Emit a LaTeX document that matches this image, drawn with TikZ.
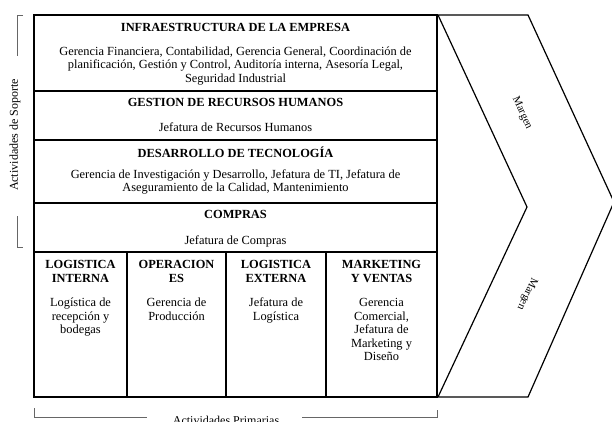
\documentclass[tikz,border=0pt]{standalone}
\usepackage{fontspec}
\setmainfont{Liberation Serif}
\newcommand{\tp}{\rule{0pt}{12pt}}
\begin{document}
\begin{tikzpicture}[x=1pt,y=-1pt,
  box/.style={draw,line width=1.2pt,inner sep=0pt,outer sep=0pt,anchor=north west},
  ttl/.style={font=\fontsize{12.4}{13.7}\selectfont\bfseries,align=center,inner sep=0pt,anchor=north},
  bdy/.style={font=\fontsize{12.4}{13.5}\selectfont,align=center,inner sep=0pt,anchor=north},
  brk/.style={draw=black!60,line width=0.5pt},
  side/.style={font=\fontsize{12}{14}\selectfont,inner sep=0pt},
  mrg/.style={font=\fontsize{11}{13}\selectfont,inner sep=0pt}]
\useasboundingbox (0,0) rectangle (612,421);
% support rows
\node[box,minimum width=403pt,minimum height=76pt] (r1) at (34,15) {};
\node[box,minimum width=403pt,minimum height=49pt] (r2) at (34,91) {};
\node[box,minimum width=403pt,minimum height=63pt] (r3) at (34,140) {};
\node[box,minimum width=403pt,minimum height=49pt] (r4) at (34,203) {};
% primary columns
\node[box,minimum width=93pt,minimum height=145pt] (c1) at (34,252) {};
\node[box,minimum width=99pt,minimum height=145pt] (c2) at (127,252) {};
\node[box,minimum width=100pt,minimum height=145pt] (c3) at (226,252) {};
\node[box,minimum width=111pt,minimum height=145pt] (c4) at (326,252) {};
% texts
\node[ttl] (t1) at (235.5,19) {\tp INFRAESTRUCTURA DE LA EMPRESA};
\node[bdy] (b1) at (235.5,43) {\tp Gerencia Financiera, Contabilidad, Gerencia General, Coordinación de\\planificación, Gestión y Control, Auditoría interna, Asesoría Legal,\\Seguridad Industrial};
\node[ttl] (t2) at (235.5,94) {\tp GESTION DE RECURSOS HUMANOS};
\node[bdy] (b2) at (235.5,119) {\tp Jefatura de Recursos Humanos};
\node[ttl] (t3) at (235.5,145) {\tp DESARROLLO DE TECNOLOGÍA};
\node[bdy] (b3) at (235.5,166) {\tp Gerencia de Investigación y Desarrollo, Jefatura de TI, Jefatura de\\Aseguramiento de la Calidad, Mantenimiento};
\node[ttl] (t4) at (235.5,206) {\tp COMPRAS};
\node[bdy] (b4) at (235.5,232) {\tp Jefatura de Compras};
\node[ttl] (t5) at (80.5,256.5) {\tp LOGISTICA\\INTERNA};
\node[bdy] (b5) at (80.5,294.5) {\tp Logística de\\recepción y\\bodegas};
\node[ttl] (t6) at (176.5,256.5) {\tp OPERACION\\ES};
\node[bdy] (b6) at (176.5,294.5) {\tp Gerencia de\\Producción};
\node[ttl] (t7) at (276,256.5) {\tp LOGISTICA\\EXTERNA};
\node[bdy] (b7) at (276,294.5) {\tp Jefatura de\\Logística};
\node[ttl] (t8) at (381.5,256.5) {\tp MARKETING\\Y VENTAS};
\node[bdy] (b8) at (381.5,294.5) {\tp Gerencia\\Comercial,\\Jefatura de\\Marketing y\\Diseño};
% chevron
\coordinate (ch1) at (438,15);
\coordinate (ch2) at (528,15);
\coordinate (ch3) at (614,202);
\coordinate (ch4) at (528,397);
\coordinate (ch5) at (438,397);
\coordinate (ch6) at (527,207);
\draw[line width=1.2pt,line join=miter] (ch1) -- (ch2) -- (ch3) -- (ch4) -- (ch5) -- (ch6) -- cycle;
\node[mrg,rotate=-65] (m1) at (522,113) {Margen};
\node[mrg,rotate=-115] (m2) at (527,294) {Margen};
% side bracket
\coordinate (s1) at (23,15);
\coordinate (s2) at (17,15);
\coordinate (s3) at (17,56);
\coordinate (s4) at (17,216);
\coordinate (s5) at (17,247);
\coordinate (s6) at (23,247);
\draw[brk] (s1) -- (s2) -- (s3);
\draw[brk] (s4) -- (s5) -- (s6);
\node[side,rotate=90] (sl) at (15,135) {Actividades de Soporte};
% bottom bracket
\coordinate (p1) at (34,408);
\coordinate (p2) at (34,417.5);
\coordinate (p3) at (147,417.5);
\coordinate (p4) at (302,417.5);
\coordinate (p5) at (437,417.5);
\coordinate (p6) at (437,410);
\draw[brk] (p1) -- (p2) -- (p3);
\draw[brk] (p4) -- (p5) -- (p6);
\node[side,anchor=base] (pl) at (226,424) {Actividades Primarias};
\end{tikzpicture}
\end{document}
